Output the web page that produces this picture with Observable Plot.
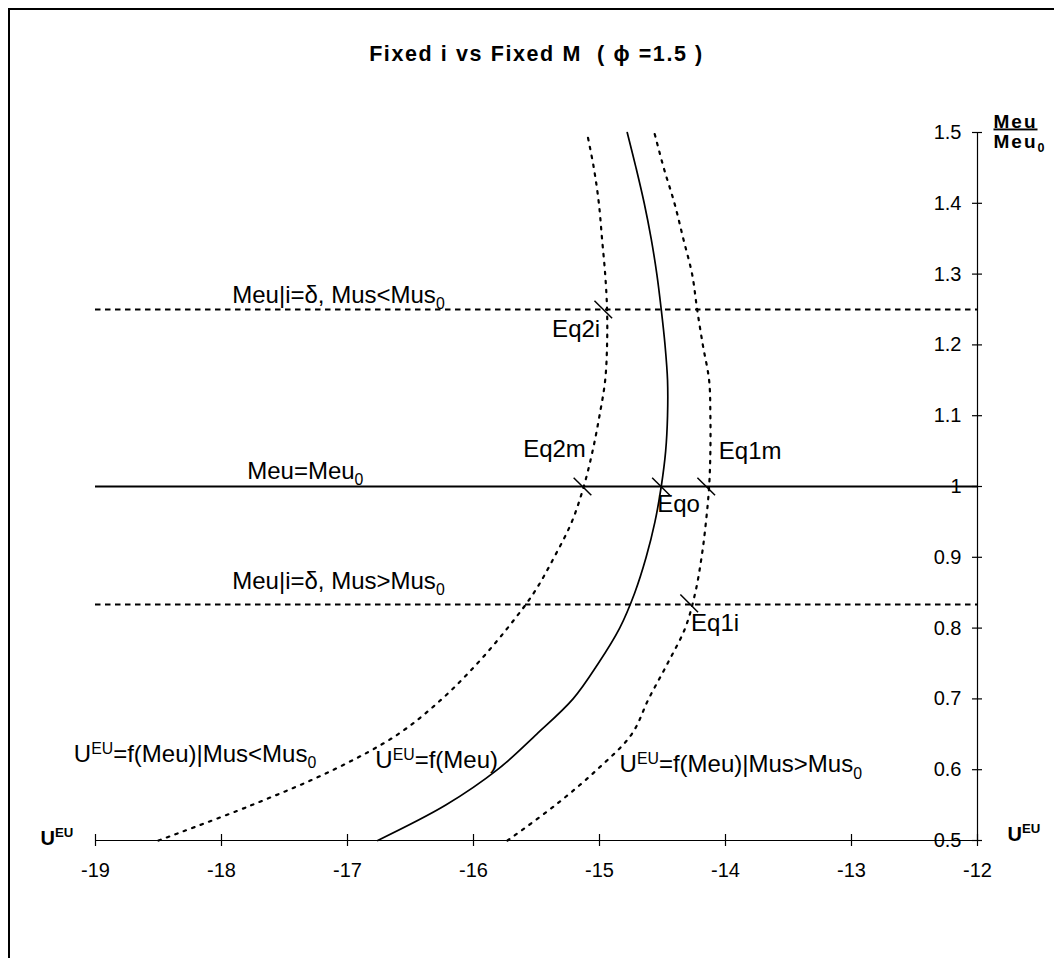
<!DOCTYPE html>
<html><head><meta charset="utf-8">
<script src="https://cdn.jsdelivr.net/npm/d3@7"></script>
<script src="https://cdn.jsdelivr.net/npm/@observablehq/plot@0.6"></script>
<style>
html,body{margin:0;padding:0;background:#fff;overflow:hidden;width:1054px;height:958px;}
#frame{position:absolute;left:8px;top:8px;width:1200px;height:1100px;border:2px solid #000;box-sizing:border-box;}
#chart{position:absolute;left:0;top:0;}
</style></head><body>
<div id="frame"></div>
<div id="chart"></div>
<script>
// ---- data ----
const meu = [0.50,0.55,0.60,0.65,0.70,0.75,0.80,0.85,0.90,0.95,1.00,1.05,1.10,1.15,1.20,1.25,1.30,1.35,1.40,1.45,1.50];
const uBase = [-16.76,-16.22,-15.81,-15.50,-15.21,-15.01,-14.84,-14.72,-14.63,-14.56,-14.51,-14.475,-14.46,-14.46,-14.48,-14.51,-14.545,-14.59,-14.645,-14.71,-14.78];
const uMusLow = [-18.50,-17.76,-17.11,-16.60,-16.25,-15.97,-15.73,-15.52,-15.36,-15.22,-15.125,-15.055,-15.00,-14.955,-14.94,-14.94,-14.955,-14.98,-15.005,-15.045,-15.10];
const uMusHigh = [-15.73,-15.35,-15.02,-14.745,-14.61,-14.46,-14.32,-14.24,-14.19,-14.155,-14.13,-14.12,-14.12,-14.13,-14.18,-14.225,-14.265,-14.335,-14.405,-14.49,-14.565];

const xTicks = [-19,-18,-17,-16,-15,-14,-13,-12];
const yTicks = [0.5,0.6,0.7,0.8,0.9,1.0,1.1,1.2,1.3,1.4,1.5];
const xDomain = [-19,-12];
const yDomain = [0.5,1.5];

const hDashedLevels = [1.25, 0.8333];
const hSolidLevels = [1.0];

const eqMarkX = [-14.97, -15.135, -14.512, -14.153, -14.288];
const eqMarkY = [1.25, 1.0, 1.0, 1.0, 0.835];

const labelTexts = [
  "Meu|i=δ, Mus<Mus_{0}",
  "Meu=Meu_{0}",
  "Meu|i=δ, Mus>Mus_{0}",
  "U^{EU}=f(Meu)|Mus<Mus_{0}",
  "U^{EU}=f(Meu)",
  "U^{EU}=f(Meu)|Mus>Mus_{0}",
  "Eq2i","Eq2m","Eq1m","Eqo","Eq1i"
];
const labelX = [-17.915,-17.796,-17.915,-19.172,-16.779,-14.841,-15.376,-15.606,-14.053,-14.542,-14.273];
const labelY = [1.2595,1.0109,0.8559,0.6106,0.6017,0.5962,1.2109,1.0414,1.0391,0.9637,0.7966];

const titleText = "Fixed i vs Fixed M  ( ϕ =1.5 )";
const yAxisTitle = ["Meu", "Meu_{0}"];
const xAxisTitle = "U^{EU}";

// ---- tables built from the arrays ----
const rows = (xs) => meu.map((m, i) => ({meu: m, u: xs[i]}));
const base = rows(uBase), low = rows(uMusLow), high = rows(uMusHigh);
const eqMarks = eqMarkX.map((x, i) => ({x, y: eqMarkY[i]}));
const labels = labelTexts.map((t, i) => ({t, x: labelX[i], y: labelY[i]}));

const FONT = "'Liberation Sans', Arial, Helvetica, sans-serif";
const slash = {draw(ctx, size) {const r = Math.sqrt(size / Math.PI) * 0.7071; ctx.moveTo(-r, -r); ctx.lineTo(r, r);}};

const chart = Plot.plot({
  width: 1054, height: 958,
  marginLeft: 95, marginRight: 77, marginTop: 132, marginBottom: 118,
  x: {domain: xDomain, axis: null},
  y: {domain: yDomain, axis: null},
  style: {fontFamily: FONT, fontSize: "20px", background: "transparent", overflow: "visible", color: "#000"},
  marks: [
    Plot.ruleY(hDashedLevels, {y: d => d, x1: xDomain[0], x2: xDomain[1], stroke: "#000", strokeWidth: 1.8, strokeDasharray: "5.5,4.5"}),
    Plot.ruleY(hSolidLevels, {y: d => d, x1: xDomain[0], x2: xDomain[1], stroke: "#000", strokeWidth: 1.8}),
    Plot.line(low, {x: "u", y: "meu", curve: "catmull-rom", stroke: "#000", strokeWidth: 2.2, strokeDasharray: "2.5,6.5"}),
    Plot.line(high, {x: "u", y: "meu", curve: "catmull-rom", stroke: "#000", strokeWidth: 2.2, strokeDasharray: "2.5,6.5"}),
    Plot.line(base, {x: "u", y: "meu", curve: "catmull-rom", stroke: "#000", strokeWidth: 1.7}),
    // axes
    Plot.ruleY([yDomain[0]], {x1: xDomain[0], x2: xDomain[1], stroke: "#000", strokeWidth: 1.2}),
    Plot.ruleX([xDomain[1]], {y1: yDomain[0], y2: yDomain[1], stroke: "#000", strokeWidth: 1.2}),
    Plot.ruleX(xTicks, {x: d => d, y1: yDomain[0], y2: yDomain[0], insetTop: -6, insetBottom: -6, stroke: "#000", strokeWidth: 1.2}),
    Plot.ruleY(yTicks, {y: d => d, x1: xDomain[1], x2: xDomain[1], insetLeft: -5, insetRight: -5, stroke: "#000", strokeWidth: 1.2}),
    Plot.text(xTicks, {x: d => d, y: yDomain[0], text: d => String(d), lineAnchor: "top", dy: 22, fontSize: 20, fill: "#000"}),
    Plot.text(yTicks, {x: xDomain[1], y: d => d, text: d => String(d), textAnchor: "end", dx: -16, fontSize: 20, fill: "#000"}),
    // equilibrium markers
    Plot.dot(eqMarks, {x: "x", y: "y", r: 12.5, symbol: slash, fill: "none", stroke: "#000", strokeWidth: 1.5}),
    // annotations
    Plot.text(labels, {x: "x", y: "y", text: "t", textAnchor: "start", lineAnchor: "bottom", fontSize: 24, fill: "#000"}),
    // title & axis titles
    Plot.text([titleText], {frameAnchor: "top", text: d => d, lineAnchor: "bottom", dy: -72, fontSize: 21.5, fontWeight: "bold", fill: "#000"}),
    Plot.text([yAxisTitle[0]], {frameAnchor: "top-right", text: d => d, textAnchor: "start", lineAnchor: "bottom", dx: 16, dy: -5, fontSize: 19, fontWeight: "bold", fill: "#000"}),
    Plot.text([yAxisTitle[1]], {frameAnchor: "top-right", text: d => d, textAnchor: "start", lineAnchor: "bottom", dx: 16, dy: 15, fontSize: 19, fontWeight: "bold", fill: "#000"}),
    Plot.text([xAxisTitle], {frameAnchor: "bottom-left", text: d => d, textAnchor: "start", lineAnchor: "bottom", dx: -55, dy: 4, fontSize: 20, fontWeight: "bold", fill: "#000"}),
    Plot.text([xAxisTitle], {frameAnchor: "bottom-right", text: d => d, textAnchor: "start", lineAnchor: "bottom", dx: 30, dy: 0, fontSize: 20, fontWeight: "bold", fill: "#000"})
  ]
});
document.getElementById("chart").appendChild(chart);

// ---- rich text: sub/superscripts, underline, spacing ----
const NS = "http://www.w3.org/2000/svg";
function richify(el) {
  const s = el.textContent;
  if (!/[_^]\{/.test(s)) return;
  const fs = parseFloat(getComputedStyle(el).fontSize);
  const parts = s.split(/([_^]\{[^}]*\})/).filter(p => p !== "");
  el.textContent = "";
  let shift = 0;
  for (const p of parts) {
    const t = document.createElementNS(NS, "tspan");
    let target = 0, txt = p, small = false;
    if (p.startsWith("_{")) { target = fs * 0.26; txt = p.slice(2, -1); small = true; }
    else if (p.startsWith("^{")) { target = -fs * 0.36; txt = p.slice(2, -1); small = true; }
    const dy = target - shift;
    if (dy) t.setAttribute("dy", dy.toFixed(2));
    if (small) t.setAttribute("font-size", (fs * 0.66).toFixed(2));
    shift = target;
    t.textContent = txt;
    el.appendChild(t);
  }
}
chart.querySelectorAll("text").forEach(el => {
  const s = el.textContent;
  if (s === titleText) { el.style.whiteSpace = "pre"; el.setAttribute("letter-spacing", "1.6"); }
  if (s === yAxisTitle[0]) { el.setAttribute("text-decoration", "underline"); el.setAttribute("letter-spacing", "2"); }
  if (s === yAxisTitle[1]) { el.setAttribute("letter-spacing", "2"); }
  richify(el);
});
</script>
</body></html>
